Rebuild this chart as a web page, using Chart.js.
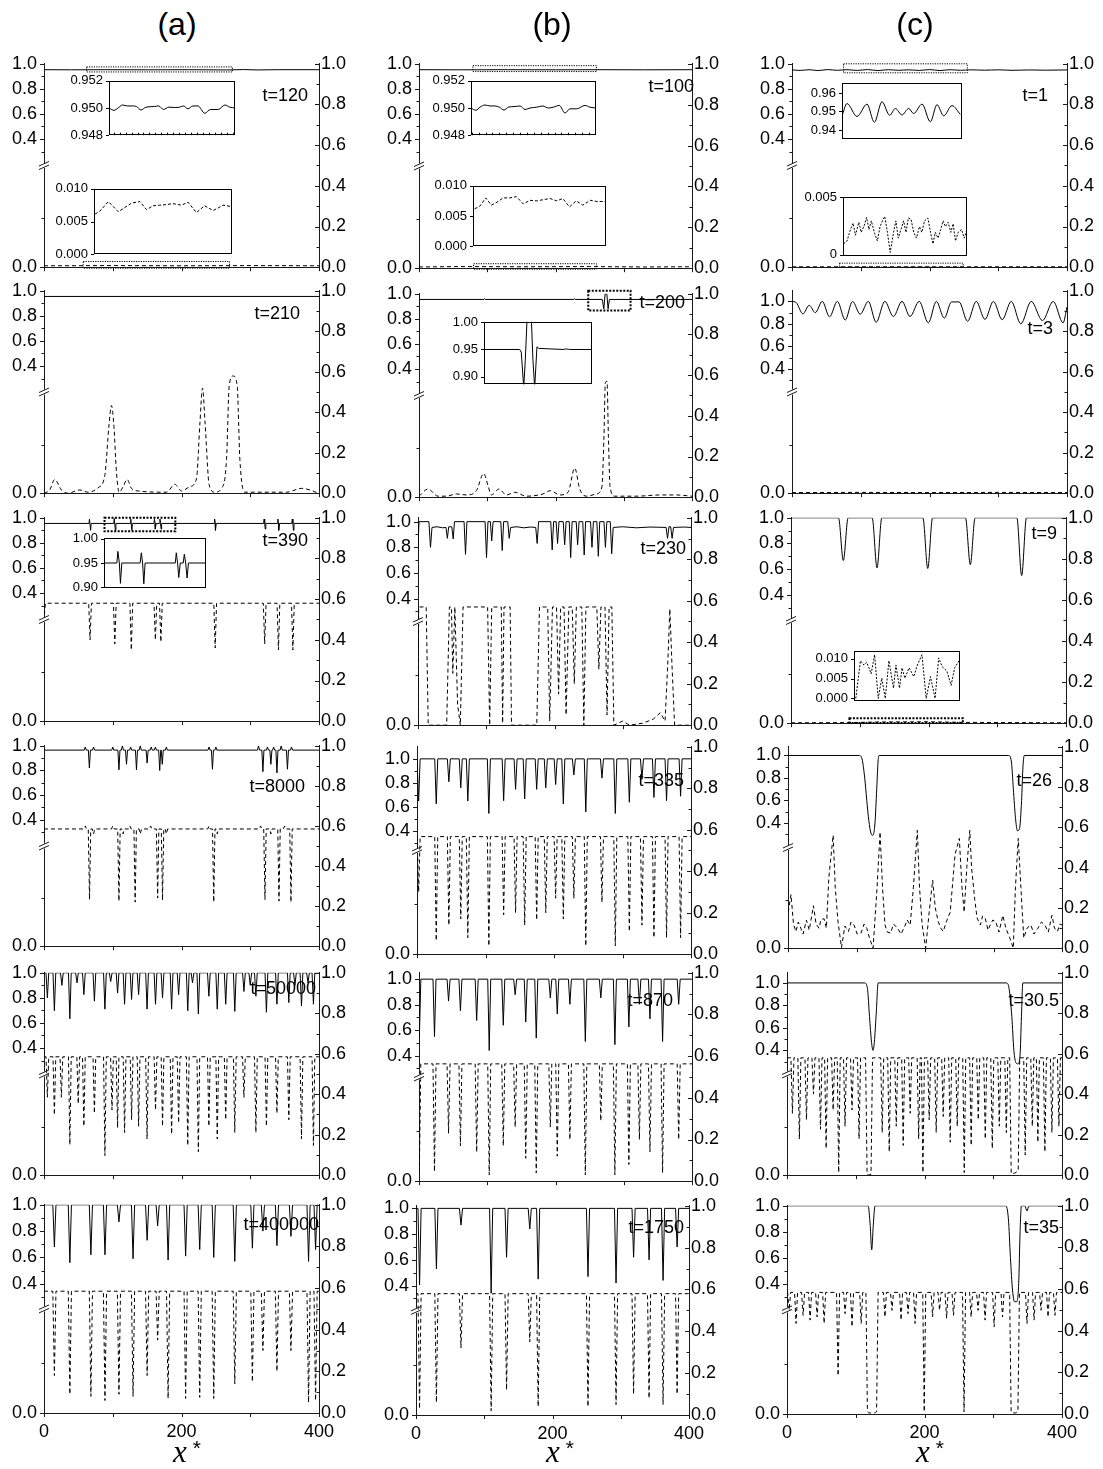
<!DOCTYPE html>
<html>
<head>
<meta charset="utf-8">
<script src="https://cdn.jsdelivr.net/npm/chart.js"></script>
<style>
  html, body { margin: 0; padding: 0; background: #fff; overflow: hidden; }
  #fig { position: relative; width: 1103px; height: 1469px; font-family: "Liberation Sans", Arial, sans-serif; color: #000; }
  #fig canvas { position: absolute; }
  .txt { position: absolute; white-space: nowrap; line-height: 1; }
  .xl { position: absolute; font-family: "Liberation Serif", "Times New Roman", serif; font-style: italic; font-size: 31px; line-height: 1; white-space: nowrap; }
  .xl span { font-family: "Liberation Sans", Arial, sans-serif; font-style: normal; font-size: 21px; position: relative; top: -7px; margin-left: 6px; }
</style>
</head>
<body>
<div id="fig"></div>
<script>
// ---------- axes ----------
const X_MIN = 0, X_MAX = 400;
const xTickValues = [0, 100, 200, 300, 400];
const xTickLabels = ['0', '', '200', '', '400'];
const rightTickValues = [0, 0.1, 0.2, 0.3, 0.4, 0.5, 0.6, 0.7, 0.8, 0.9, 1.0];
const rightTickLabels = ['0.0', '', '0.2', '', '0.4', '', '0.6', '', '0.8', '', '1.0'];
const leftTickValues = [0.3, 0.4, 0.5, 0.6, 0.7, 0.8, 0.9, 1.0];
const leftTickLabels = ['', '0.4', '', '0.6', '', '0.8', '', '1.0'];
const leftBottomLabel = '0.0';
const BREAK_AT = 0.5;   // right-axis level where the left axis is broken
const LOW_TICK = 0.24;  // minor tick on the lower part of the left axis

// ---------- column (a) ----------
const a1Solid = [[0,0.953],[40,0.952],[90,0.953],[150,0.952],[210,0.953],[265,0.951],[290,0.954],[310,0.951],[340,0.953],[400,0.953]];
const a1Dashed = [[0,0.007],[100,0.008],[200,0.007],[300,0.008],[400,0.007]];
const a1InsetSolid = [[62,0.95],[70.5,0.94983],[77.3,0.95],[84.6,0.95022],[93.1,0.95015],[101.6,0.95015],[108.4,0.95011],[115.7,0.94985],[124.2,0.95006],[138.3,0.95011],[145.7,0.95015],[153.6,0.94989],[162.6,0.95006],[172.2,0.95004],[180.7,0.95006],[187.5,0.95015],[194.8,0.94994],[203.3,0.95015],[211.8,0.95015],[223.1,0.94961],[232.7,0.94989],[245.7,0.94989],[257,0.95022],[265.5,0.95006],[274,0.95]];
const a1InsetDashed = [[58.5,0.00614],[66.2,0.00659],[79.1,0.00805],[86.8,0.00727],[94.5,0.0065],[104.7,0.00714],[115,0.00782],[127.8,0.00805],[138.1,0.00682],[148.3,0.00741],[158.6,0.0075],[168.9,0.00759],[179.1,0.00773],[192,0.0075],[202.2,0.00795],[215,0.00636],[227.8,0.00741],[240.7,0.00668],[248.4,0.00705],[256.1,0.0075],[270,0.00727]];

const a2Solid = [[0,0.955],[400,0.955]];
const a2Dashed = [[0,0.0],[8.3,0.016],[15.6,0.068],[25.3,0.016],[35,0.0],[52,0.016],[64.1,0.005],[78.7,0.027],[88.4,0.087],[94.7,0.341],[98.1,0.433],[101.5,0.341],[105.4,0.103],[109.2,0.005],[115.1,0.032],[120.9,0.068],[127.2,0.024],[136.9,0.011],[178.2,0.005],[190.3,0.044],[200,0.011],[212.1,0.032],[221.8,0.071],[226.7,0.341],[230.6,0.519],[234.4,0.341],[240.3,0.04],[248.5,0.005],[258.2,0.024],[265.5,0.167],[269.4,0.532],[275.2,0.579],[281,0.532],[284.9,0.167],[292.2,0.005],[352.9,0.005],[374.7,0.024],[400,0.0]];

const a3SolidSpikes = [[66.2,0.99],[67.8,0.90],[102.2,0.995],[103.8,0.90],[126.2,0.99],[127.8,0.90],[160.7,0.99],[162.3,0.91],[168.7,0.99],[170.3,0.91],[248.2,0.99],[249.8,0.90],[320.2,0.99],[321.8,0.91],[340.2,0.99],[341.8,0.90],[361.2,0.99],[362.8,0.90]];
const a3DashedDips = [[0,0.50],[67,0.40],[103,0.38],[127,0.35],[162,0.40],[170,0.39],[249,0.36],[321,0.38],[341,0.35],[362,0.35]];
const a3Inset = [[88,0.95],[101,0.95],[102,0.974],[103.5,0.95],[104.6,0.908],[106,0.95],[124.5,0.95],[125.7,0.971],[127,0.95],[128.2,0.907],[129.5,0.95],[160,0.95],[161,0.971],[162.3,0.95],[163.5,0.92],[165,0.95],[168,0.95],[169.1,0.968],[170.5,0.95],[171.9,0.919],[173.3,0.95],[191,0.95]];

const a4SolidSpikes = [[60,0.99],[66,0.82],[72,0.99],[100,0.99],[109,0.805],[114,1.0],[120,0.85],[126,0.99],[134.5,0.805],[140,1.0],[150,0.86],[156,0.99],[162,0.99],[168.3,0.80],[172,0.85],[178,0.99],[240,0.99],[245,0.81],[250,0.99],[312,1.0],[318.4,0.79],[325,0.99],[330,0.85],[334,0.99],[338.8,0.78],[345,1.0],[354.1,0.81],[360,0.99]];
const a4DashedDips = [[60,0.60],[66.2,0.233],[72,0.56],[100,0.60],[109,0.225],[115,0.56],[125,0.60],[132.6,0.22],[140,0.56],[155,0.60],[165.3,0.24],[172.4,0.23],[178,0.56],[240,0.60],[246.9,0.22],[252,0.56],[315,0.60],[321.4,0.233],[330,0.56],[341.8,0.225],[350,0.60],[359.2,0.22]];

const a5SolidDips = [[4.9,0.80],[15.1,0.697],[26,0.90],[37.6,0.633],[48,0.92],[58,0.826],[73.3,0.774],[88.6,0.71],[97,0.93],[107,0.838],[117.2,0.749],[127.4,0.787],[137.6,0.826],[149.9,0.71],[162.2,0.749],[172.4,0.80],[185.6,0.71],[195.8,0.826],[209.1,0.697],[216,0.92],[224.5,0.672],[239.8,0.813],[252,0.71],[264.3,0.749],[277.5,0.692],[290.8,0.851],[300,0.90],[308.2,0.813],[323.5,0.685],[338.8,0.749],[356.1,0.762],[365,0.90],[374.5,0.736],[384,0.92],[391.9,0.749]];
const a5DashedDips = [[4.9,0.385],[15.1,0.298],[25.3,0.385],[37.6,0.151],[49.8,0.353],[58,0.242],[73.3,0.306],[88.6,0.097],[98.9,0.322],[107,0.235],[117.2,0.211],[127.4,0.274],[137.6,0.242],[149.9,0.179],[162.2,0.322],[172.4,0.242],[185.6,0.203],[195.8,0.258],[209.1,0.147],[224.5,0.116],[239.8,0.242],[252,0.179],[264.3,0.274],[277.5,0.211],[290.8,0.385],[308.2,0.211],[323.5,0.242],[338.8,0.306],[356.1,0.274],[374.5,0.179],[391.9,0.147]];

const a6SolidDips = [[15.1,0.68],[37.6,0.56],[68.2,0.62],[88.7,0.62],[109,0.87],[129.5,0.59],[150,0.73],[165.3,0.84],[180.5,0.58],[206,0.61],[226.5,0.66],[246.9,0.60],[277.5,0.57],[303.1,0.67],[318.4,0.80],[338.8,0.69],[359.2,0.76],[384.8,0.57],[395,0.66]];
const a6DashedDips = [[15.1,0.18],[37.6,0.09],[68.2,0.08],[88.7,0.06],[109,0.09],[129.5,0.08],[150,0.18],[165.3,0.35],[180.5,0.07],[206,0.07],[226.5,0.075],[246.9,0.07],[277.5,0.14],[303.1,0.15],[318.4,0.30],[338.8,0.20],[359.2,0.30],[384.8,0.05],[395,0.06]];

// ---------- column (b) ----------
const b1Solid = [[0,0.953],[60,0.952],[130,0.953],[200,0.952],[260,0.953],[330,0.952],[400,0.953]];
const b1Dashed = [[0,0.006],[60,0.008],[150,0.007],[250,0.008],[330,0.006],[400,0.007]];
const b1InsetSolid = [[79,0.95],[86.2,0.94983],[92,0.95006],[99.3,0.95022],[106.5,0.95015],[113.8,0.95015],[120,0.95006],[126.8,0.94985],[133.1,0.95006],[142.7,0.95011],[150,0.95015],[157.2,0.94989],[164.4,0.95],[174.1,0.95006],[182.8,0.95015],[191,0.95],[198.2,0.95006],[206.9,0.95019],[215.1,0.94963],[222.4,0.94994],[232,0.94994],[244.1,0.95019],[251.3,0.95006],[260,0.95]];
const b1InsetDashed = [[82.3,0.0062],[89.1,0.0066],[97.2,0.008],[104.9,0.0068],[112.6,0.0073],[120.8,0.008],[129.9,0.008],[138.9,0.0082],[148,0.007],[157.1,0.0076],[166.1,0.0075],[175.2,0.0077],[184.3,0.0079],[193.4,0.0075],[201.5,0.0079],[210.6,0.0065],[219.6,0.0075],[228.7,0.0068],[238.7,0.0076],[247.8,0.0074],[259.1,0.0074]];

const b2Solid = [[0,0.955],[95,0.955],[96,0.962],[97,0.955],[227,0.955],[228,0.962],[229,0.955],[268.5,0.955],[270.8,0.88],[272.7,1.0],[275.2,1.0],[277.1,0.88],[279,0.955],[400,0.955]];
const b2Dashed = [[0,0.005],[13.2,0.04],[27.9,0.005],[40.1,0.005],[54.8,0.016],[69.4,0.011],[84,0.032],[94.8,0.116],[101.2,0.056],[106,0.011],[117.2,0.04],[128,0.011],[140.2,0.024],[157.3,0.005],[181.7,0.016],[192.5,0.032],[206.2,0.011],[218.4,0.024],[228.2,0.143],[235.5,0.04],[245.3,0.005],[260,0.016],[268,0.05],[271,0.3],[273,0.56],[275.5,0.57],[277.5,0.3],[280,0.05],[286.8,0.005],[318.6,0.005],[352.7,0.011],[377.2,0.011],[400,0.005]];
const b2Inset = [[248,0.95],[268.5,0.95],[269.4,0.945],[270.8,0.88],[271.7,0.93],[272.7,1.005],[275.2,1.005],[276.1,0.93],[277.1,0.88],[278.4,0.955],[279.4,0.952],[293.4,0.95],[295.3,0.951],[297.2,0.95],[310,0.95]];

const b3Solid = [[0,0.8],[1.5,1.0],[16,1.0],[18.3,0.8],[20.5,0.955],[28,0.96],[36,0.952],[41,0.955],[43,0.87],[45,0.96],[49.5,0.96],[51.6,0.865],[53.5,1.0],[67.5,1.0],[69.6,0.745],[71.7,1.0],[98.3,1.0],[100.4,0.72],[102.5,1.0],[106,1.0],[108,0.85],[110,1.0],[121.3,1.0],[123.4,0.775],[125.5,1.0],[131.5,1.0],[133.6,0.87],[135.7,0.955],[145,0.96],[155,0.952],[165,0.958],[172.5,0.955],[174.6,0.83],[176.7,1.0],[194.5,1.0],[196.6,0.78],[198.7,1.0],[202.4,1.0],[204.5,0.83],[206.6,1.0],[212.8,1.0],[214.9,0.82],[217,1.0],[221.6,1.0],[223.7,0.72],[225.8,1.0],[231.8,1.0],[233.9,0.82],[236,1.0],[241.4,1.0],[243.5,0.74],[245.6,1.0],[252.8,1.0],[254.9,0.8],[257,1.0],[262.1,1.0],[264.2,0.73],[266.3,1.0],[272.5,1.0],[274.6,0.8],[276.7,1.0],[281.7,1.0],[283.8,0.75],[286,0.955],[300,0.96],[320,0.952],[340,0.958],[363.5,0.955],[365.6,0.87],[367.7,0.96],[370.2,0.96],[372.3,0.87],[374.4,0.955],[390,0.958],[400,0.955]];
const b3Dashed = [[0,0.0],[1,0.57],[12,0.57],[15,0.0],[42,0.0],[46,0.57],[49,0.57],[51,0.25],[54,0.57],[58,0.1],[62,0.0],[66,0.57],[102,0.57],[105,0.0],[108,0.57],[122,0.57],[124,0.01],[126,0.57],[135,0.57],[137,0.0],[174,0.0],[178,0.57],[190,0.57],[193,0.02],[197,0.57],[203,0.57],[206,0.15],[209,0.57],[214,0.57],[217,0.05],[221,0.57],[226,0.57],[229,0.2],[232,0.57],[240,0.57],[243,0.0],[246,0.57],[262,0.57],[265,0.27],[268,0.57],[274,0.57],[277,0.05],[280,0.57],[284,0.57],[287,0.0],[300,0.02],[310,0.0],[330,0.01],[345,0.03],[355,0.06],[362,0.02],[366,0.3],[369,0.56],[372,0.3],[376,0.0],[400,0.0]];

const b4SolidDips = [[2.4,0.65],[28.1,0.627],[46.5,0.81],[63.9,0.76],[74.2,0.65],[104.9,0.547],[126.5,0.653],[143.9,0.747],[157.2,0.667],[174.7,0.747],[188,0.76],[202.4,0.787],[213.6,0.627],[229,0.867],[246.4,0.56],[270,0.84],[289.5,0.547],[310,0.64],[328.4,0.83],[345.9,0.68],[364.3,0.653],[384.8,0.69]];
const b4DashedDips = [[2.4,0.30],[28.1,0.065],[46.5,0.14],[63.9,0.17],[74.2,0.08],[104.9,0.04],[126.5,0.19],[143.9,0.20],[157.2,0.14],[174.7,0.165],[188,0.20],[202.4,0.27],[213.6,0.17],[229,0.27],[246.4,0.04],[270,0.25],[289.5,0.04],[310,0.11],[328.4,0.14],[345.9,0.08],[364.3,0.08],[384.8,0.08]];

const b5SolidDips = [[0.5,0.537],[22.7,0.549],[43.3,0.828],[60.7,0.752],[84.5,0.676],[102.9,0.44],[123.5,0.638],[140.9,0.878],[156.4,0.663],[171.8,0.537],[192.4,0.853],[202.6,0.727],[221.1,0.803],[243.7,0.511],[266.4,0.853],[287,0.486],[307.5,0.625],[322.9,0.803],[338.4,0.689],[356.9,0.511],[380.5,0.803]];
const b5DashedDips = [[0.5,0.05],[22.7,0.046],[43.3,0.23],[60.7,0.17],[84.5,0.14],[102.9,0.03],[123.5,0.17],[140.9,0.26],[156.4,0.11],[171.8,0.04],[192.4,0.26],[202.6,0.12],[221.1,0.20],[243.7,0.03],[266.4,0.29],[287,0.03],[307.5,0.08],[322.9,0.20],[338.4,0.14],[356.9,0.04],[380.5,0.20]];

const b6SolidDips = [[5.2,0.405],[29.9,0.53],[65.9,0.87],[110.1,0.34],[132.7,0.62],[166.7,0.84],[179,0.45],[252,0.47],[293.1,0.42],[318.8,0.62],[341.5,0.60],[362,0.44],[382.6,0.70]];
const b6DashedDips = [[5.2,0.03],[29.9,0.06],[65.9,0.32],[110.1,0.02],[132.7,0.12],[166.7,0.35],[179,0.04],[252,0.04],[293.1,0.05],[318.8,0.10],[341.5,0.08],[362,0.05],[382.6,0.10]];

// ---------- column (c) ----------
const c1Solid = [[0,0.952],[12,0.947],[25,0.953],[38,0.946],[52,0.954],[66,0.948],[80,0.953],[95,0.947],[110,0.954],[125,0.946],[140,0.953],[155,0.948],[170,0.952],[185,0.947],[200,0.954],[215,0.946],[230,0.953],[245,0.948],[260,0.952],[280,0.949],[300,0.952],[320,0.948],[345,0.951],[370,0.949],[400,0.951]];
const c1Dashed = [[0,0.002],[100,0.002],[200,0.002],[300,0.002],[400,0.002]];
const c1InsetSolid = [[75,0.9476],[82.5,0.95429],[97.5,0.9473],[112.5,0.95397],[123.5,0.94413],[135,0.95524],[146.5,0.94794],[155,0.95159],[165,0.9481],[175,0.95159],[182.5,0.94889],[195,0.95397],[207.5,0.94444],[217.5,0.95365],[227.5,0.94762],[240,0.95317],[252.5,0.94841]];
const c1InsetDashed = [[70,0.00095],[74.9,0.0012],[79.8,0.0022],[83.7,0.00275],[87.1,0.0017],[92,0.00283],[95.4,0.00195],[99.3,0.00245],[103.2,0.00325],[106.7,0.0022],[110.1,0.00295],[115,0.00183],[118.9,0.0012],[122.8,0.00245],[126.2,0.00295],[129.6,0.00333],[133.5,0.00195],[137.5,0.0002],[142.4,0.00195],[145.8,0.00295],[149.2,0.00145],[153.1,0.0022],[157,0.00295],[160.4,0.00195],[163.9,0.0032],[167.8,0.00308],[171.7,0.00195],[175.6,0.00145],[180,0.00245],[183.4,0.00195],[187.3,0.00295],[192.2,0.0032],[196.1,0.00195],[199.6,0.00095],[203,0.00195],[206.9,0.00145],[210.8,0.0022],[214.2,0.00295],[217.7,0.00245],[221.6,0.00283],[225.5,0.00195],[228.9,0.0027],[232.3,0.0012],[236.2,0.00195],[241.1,0.0022],[245,0.00145],[249,0.0022]];

const c2Solid = [[0,1.0],[6,0.99],[15.9,0.889],[25,0.965],[33.9,0.90],[44,1.0],[54.6,0.863],[66,1.0],[77.4,0.834],[88,1.0],[99.2,0.886],[111,1.0],[122.4,0.814],[135,1.0],[147.5,0.866],[160,1.0],[171.7,0.866],[185,1.0],[198.3,0.809],[210,1.0],[221.5,0.851],[232,0.995],[243,0.995],[255.4,0.823],[268,1.0],[280.6,0.84],[293,1.0],[305.7,0.837],[319,1.0],[332.8,0.80],[348,1.0],[364.3,0.829],[380,1.0],[394.3,0.809],[400,0.95]];
const c2Dashed = [[0,0.003],[100,0.004],[200,0.003],[300,0.004],[400,0.003]];

const c3SolidDips = [[76.1,0.667],[125.1,0.61],[198.9,0.605],[260.8,0.635],[335.5,0.55]];
const c3Dashed = [[0,0.002],[85,0.003],[130,0.006],[200,0.007],[250,0.004],[320,0.003],[400,0.002]];
const c3Inset = [[87.8,0.0],[95,0.0095],[100.5,0.0084],[104.4,0.0091],[107.7,0.008],[111.6,0.0062],[117.1,0.011],[122.7,0.0],[128.2,0.0051],[133.7,0.0],[139.3,0.0095],[146.5,0.0026],[150.3,0.0084],[155.9,0.0026],[159.7,0.0077],[164.2,0.0051],[170.8,0.0077],[178,0.0055],[183.6,0.0084],[190.8,0.011],[197.4,0.0],[204,0.0055],[211.2,0.0],[216.8,0.0102],[222.3,0.008],[229.5,0.0069],[236.2,0.0033],[241.7,0.0077],[250,0.0099]];

const c4Solid = [[0,1],[104,1],[108,0.97],[112,0.8],[115,0.6],[118,0.42],[121,0.31],[124,0.29],[127,0.4],[129.5,0.7],[131.5,0.95],[133,1],[322,1],[326,0.95],[329,0.7],[332,0.45],[335,0.33],[338,0.35],[341,0.6],[343,0.9],[345,1],[400,1]];
const c4Dashed = [[0.3,0.179],[4.4,0.266],[8,0.12],[11.6,0.083],[15,0.13],[18.7,0.099],[22,0.07],[26.9,0.139],[31,0.09],[37.2,0.211],[41,0.12],[45.4,0.099],[48,0.14],[52.6,0.147],[56,0.1],[59.7,0.354],[65.9,0.561],[69,0.3],[73,0.131],[78.1,0.003],[83,0.11],[88.3,0.083],[92,0.13],[96.5,0.115],[101,0.07],[106.7,0.075],[111,0.12],[115,0.099],[119,0.05],[124.2,0.0],[130,0.3],[134.4,0.577],[138,0.3],[141.6,0.115],[145,0.08],[149.8,0.075],[154,0.12],[160,0.099],[165,0.07],[170.2,0.107],[174,0.14],[178.4,0.115],[183,0.3],[188.8,0.585],[192,0.3],[195.9,0.115],[201,0.0],[206.1,0.179],[211.2,0.338],[215,0.2],[219.4,0.131],[223,0.1],[226.6,0.083],[231,0.13],[236.8,0.179],[243.9,0.466],[250.1,0.545],[254,0.3],[257.2,0.179],[261,0.4],[265.4,0.585],[268,0.4],[272.6,0.242],[276,0.15],[280.9,0.115],[284,0.16],[288,0.147],[292,0.09],[295.2,0.115],[299,0.14],[303.4,0.131],[308,0.08],[313.6,0.163],[318,0.1],[323.8,0.051],[328.9,0.0],[332,0.3],[336.1,0.545],[340,0.3],[344.2,0.051],[349,0.1],[354.6,0.115],[359,0.07],[364.8,0.099],[370,0.13],[375,0.115],[380,0.08],[385.3,0.163],[389,0.1],[393.4,0.083],[397,0.12],[400,0.115]];

const c5Solid = [[0,1],[113,1],[117,0.95],[120,0.7],[123,0.47],[125,0.40],[127,0.47],[130,0.75],[132.5,1],[319,1],[323,0.95],[327,0.7],[330,0.4],[333,0.29],[336,0.28],[339,0.36],[341,0.7],[343,1],[400,1]];
const c5DashedDips = [[7.9,0.306],[18,0.179],[28.3,0.274],[38.5,0.401],[48.7,0.227],[56.9,0.132],[67.1,0.322],[75.2,0.013],[84.4,0.242],[94.6,0.322],[104.8,0.179],[116.5,0.005],[118.5,0.002],[120.5,0.002],[122.2,0.005],[138.5,0.211],[148.7,0.116],[158.9,0.242],[169,0.147],[179.2,0.306],[191.5,0.179],[197.7,0.013],[206.8,0.274],[217,0.211],[227.2,0.29],[237.4,0.163],[247.6,0.242],[257.8,0.013],[267.9,0.147],[278.2,0.274],[288.4,0.179],[298.6,0.132],[308.8,0.242],[319,0.211],[326.1,0.008],[328.5,0.01],[331,0.01],[333.5,0.015],[336.3,0.021],[346.5,0.10],[356.8,0.242],[364.9,0.163],[375.1,0.116],[385.3,0.211],[395.5,0.242]];

const c6Solid = [[0,1],[118,1],[121,0.85],[123.2,0.66],[125.5,0.85],[128,1],[318,1],[322,0.9],[325,0.6],[328,0.35],[331,0.26],[334,0.26],[337,0.4],[339,0.8],[341,1],[346,1],[349,0.96],[352,1],[400,1]];
const c6DashedDips = [[3.1,0.498],[13.2,0.435],[23.4,0.474],[33.6,0.451],[43.8,0.466],[54,0.435],[74.3,0.184],[84.5,0.482],[94.6,0.419],[107.9,0.435],[117,0.011],[119,0.005],[121,0.005],[123,0.005],[125,0.005],[127,0.005],[129,0.008],[130.3,0.011],[142.5,0.466],[152.7,0.498],[165.9,0.451],[176.1,0.482],[186.3,0.435],[199.6,0.011],[211.8,0.466],[221.9,0.498],[232.1,0.46],[242.2,0.474],[257.5,0.011],[267.8,0.466],[277.9,0.498],[288.1,0.451],[301.3,0.419],[313.5,0.466],[326,0.011],[328,0.005],[330,0.005],[332,0.005],[334,0.008],[335.9,0.011],[349.1,0.435],[359.4,0.451],[369.5,0.498],[379.7,0.466],[389.8,0.474]];

// inset tick values / labels
const tick952 = [0.948, 0.950, 0.952], lab952 = ['0.948', '0.950', '0.952'];
const tick010 = [0, 0.005, 0.010], lab010 = ['0.000', '0.005', '0.010'];
const tick96 = [0.94, 0.95, 0.96], lab96 = ['0.94', '0.95', '0.96'];
const tick005 = [0, 0.005], lab005 = ['0', '0.005'];
const tick100 = [0.90, 0.95, 1.00], lab100 = ['0.90', '0.95', '1.00'];

// ---------- helpers ----------
function pts(arr) { return arr.map(([x, y]) => ({x, y})); }

// flat level with narrow dips (or spikes); neighbours closer than 2w are joined directly
function dipLine(base, dips, w) {
  const out = [];
  if (!dips.length || dips[0][0] - w > X_MIN) out.push({x: X_MIN, y: base});
  dips.forEach(([x, y], i) => {
    const prev = dips[i - 1], next = dips[i + 1];
    if (!prev || x - prev[0] > 2 * w) out.push({x: x - w, y: base});
    out.push({x, y});
    if (!next || next[0] - x > 2 * w) out.push({x: x + w, y: base});
  });
  if (!dips.length || dips[dips.length - 1][0] + w < X_MAX) out.push({x: X_MAX, y: base});
  return out;
}

Chart.defaults.font.family = '"Liberation Sans", Arial, sans-serif';
Chart.defaults.color = '#000';

const fig = document.getElementById('fig');
const AXIS = '#1a1a1a';
const NO_GRID = {display: false, drawTicks: false, tickLength: 0};

// ticks, axis break and zoom frames of a main panel
const panelDeco = {
  id: 'panelDeco',
  afterDraw(chart, args, o) {
    const {ctx, chartArea: a, scales: {x, yL, yR}} = chart;
    ctx.save();
    ctx.strokeStyle = AXIS;
    ctx.lineWidth = 1;
    ctx.beginPath();
    [o.lmin, ...leftTickValues].forEach((v, i) => {
      if (v > o.lmax + 1e-9) return;
      const y = Math.round(yL.getPixelForValue(v)) + 0.5;
      const len = (i === 0 || leftTickLabels[i - 1]) ? 4 : 2.5;
      ctx.moveTo(a.left - len, y); ctx.lineTo(a.left, y);
    });
    const yLow = Math.round(yR.getPixelForValue(LOW_TICK)) + 0.5;
    ctx.moveTo(a.left - 2.5, yLow); ctx.lineTo(a.left, yLow);
    rightTickValues.forEach((v, i) => {
      const y = Math.round(yR.getPixelForValue(v)) + 0.5;
      const len = rightTickLabels[i] ? 4 : 2.5;
      ctx.moveTo(a.right, y); ctx.lineTo(a.right - len, y);
    });
    xTickValues.forEach(v => {
      const px = Math.round(x.getPixelForValue(v)) + 0.5;
      ctx.moveTo(px, a.bottom); ctx.lineTo(px, a.bottom + 4);
    });
    ctx.stroke();

    // broken left axis
    const yb = yR.getPixelForValue(BREAK_AT);
    ctx.fillStyle = '#fff';
    ctx.fillRect(a.left - 1.5, yb - 2.5, 3, 5);
    ctx.beginPath();
    ctx.moveTo(a.left - 5, yb + 0.5); ctx.lineTo(a.left + 5, yb - 4);
    ctx.moveTo(a.left - 5, yb + 4); ctx.lineTo(a.left + 5, yb - 0.5);
    ctx.stroke();

    // dotted frames of the zoomed regions
    o.rects.forEach(r => {
      const sc = r.L ? yL : yR, yy = r.L || r.R;
      const x0 = x.getPixelForValue(r.x[0]), x1 = x.getPixelForValue(r.x[1]);
      const y0 = sc.getPixelForValue(yy[1]), y1 = sc.getPixelForValue(yy[0]);
      ctx.setLineDash(r.thick ? [2, 1.5] : [1.2, 1.2]);
      ctx.lineWidth = r.thick ? 2 : 1;
      ctx.strokeStyle = '#000';
      ctx.strokeRect(x0, y0, x1 - x0, y1 - y0);
    });
    ctx.restore();
  }
};

const insetDeco = {
  id: 'insetDeco',
  beforeDraw(chart) {
    const {ctx, chartArea: a} = chart;
    ctx.save();
    ctx.fillStyle = '#fff';
    ctx.fillRect(a.left, a.top, a.right - a.left, a.bottom - a.top);
    ctx.restore();
  },
  afterDraw(chart, args, o) {
    const {ctx, chartArea: a, scales: {x, y}} = chart;
    ctx.save();
    ctx.strokeStyle = '#000';
    ctx.lineWidth = 1;
    ctx.strokeRect(Math.round(a.left) + 0.5, Math.round(a.top) + 0.5,
      Math.round(a.right - a.left) - 1, Math.round(a.bottom - a.top) - 1);
    ctx.beginPath();
    o.ticks.forEach(v => {
      const py = Math.round(y.getPixelForValue(v)) + 0.5;
      ctx.moveTo(a.left - 3, py); ctx.lineTo(a.left, py);
    });
    if (o.xt) {
      for (let v = Math.ceil(x.min / 10) * 10; v < x.max; v += 10) {
        const px = Math.round(x.getPixelForValue(v)) + 0.5;
        ctx.moveTo(px, a.bottom); ctx.lineTo(px, a.bottom - 2.5);
      }
    }
    ctx.stroke();
    ctx.restore();
  }
};

function makePanel(p, bottomRow) {
  const L = Math.round(p.box[0]), T = Math.round(p.box[1]);
  const R = Math.round(p.box[2]), B = Math.round(p.box[3]);
  const side = 44, top = 14, xh = bottomRow ? 36 : 14;
  const cv = document.createElement('canvas');
  cv.width = R - L + 2 * side;
  cv.height = B - T + top + xh;
  cv.style.left = (L - side) + 'px';
  cv.style.top = (T - top) + 'px';
  fig.appendChild(cv);
  const lmin = p.lmax - (B - T) / p.ppu;
  const border = {display: true, color: AXIS, width: 1};
  new Chart(cv, {
    type: 'line',
    data: {
      datasets: [
        {data: p.solid, yAxisID: 'yL', borderColor: '#000', borderWidth: 1, pointRadius: 0,
         cubicInterpolationMode: p.smooth ? 'monotone' : 'default'},
        {data: p.dashed, yAxisID: 'yR', borderColor: '#000', borderWidth: 1, borderDash: [4, 3], pointRadius: 0,
         cubicInterpolationMode: p.smoothDash ? 'monotone' : 'default'}
      ]
    },
    options: {
      responsive: false, animation: false, devicePixelRatio: 1, events: [],
      layout: {padding: {top, left: 0, right: 0, bottom: 0}},
      plugins: {legend: {display: false}, tooltip: {enabled: false},
                panelDeco: {lmin, lmax: p.lmax, rects: p.rects || []}},
      scales: {
        x: {
          type: 'linear', min: X_MIN, max: X_MAX, grid: NO_GRID, border,
          afterFit: s => { s.height = xh; },
          afterBuildTicks: s => { s.ticks = xTickValues.map(v => ({value: v})); },
          ticks: {display: bottomRow, autoSkip: false, maxRotation: 0, padding: 8,
                  font: {size: 18}, color: '#000', callback: (v, i) => xTickLabels[i]}
        },
        yL: {
          type: 'linear', position: 'left', min: lmin, max: p.lmax, grid: NO_GRID, border,
          afterFit: s => { s.width = side; },
          afterBuildTicks: s => {
            s.ticks = [lmin, ...leftTickValues].filter(v => v <= p.lmax + 1e-9).map(v => ({value: v}));
          },
          ticks: {autoSkip: false, padding: 7, font: {size: 18}, color: '#000',
                  callback: (v, i) => i === 0 ? leftBottomLabel : leftTickLabels[i - 1]}
        },
        yR: {
          type: 'linear', position: 'right', min: 0, max: 1, grid: NO_GRID, border,
          afterFit: s => { s.width = side; },
          afterBuildTicks: s => { s.ticks = rightTickValues.map(v => ({value: v})); },
          ticks: {autoSkip: false, padding: 2, font: {size: 18}, color: '#000',
                  callback: (v, i) => rightTickLabels[i]}
        }
      }
    },
    plugins: [panelDeco]
  });
}

function makeInset(s) {
  const L = Math.round(s.box[0]), T = Math.round(s.box[1]);
  const R = Math.round(s.box[2]), B = Math.round(s.box[3]);
  const side = 44, pad = 10;
  const cv = document.createElement('canvas');
  cv.width = R - L + side + 4;
  cv.height = B - T + 2 * pad;
  cv.style.left = (L - side) + 'px';
  cv.style.top = (T - pad) + 'px';
  fig.appendChild(cv);
  new Chart(cv, {
    type: 'line',
    data: {datasets: [{data: s.data, borderColor: '#000', borderWidth: 1, pointRadius: 0,
                       borderDash: s.dash || [], cubicInterpolationMode: s.smooth ? 'monotone' : 'default'}]},
    options: {
      responsive: false, animation: false, devicePixelRatio: 1, events: [],
      layout: {padding: {top: pad, right: 4, left: 0, bottom: 0}},
      plugins: {legend: {display: false}, tooltip: {enabled: false},
                insetDeco: {ticks: s.ticks, xt: !!s.xt}},
      scales: {
        x: {type: 'linear', min: s.x[0], max: s.x[1], grid: NO_GRID, border: {display: false},
            ticks: {display: false}, afterFit: a => { a.height = pad; }},
        y: {type: 'linear', min: s.y[0], max: s.y[1], grid: NO_GRID, border: {display: false},
            afterFit: a => { a.width = side; },
            afterBuildTicks: a => { a.ticks = s.ticks.map(v => ({value: v})); },
            ticks: {autoSkip: false, padding: 6, font: {size: 13}, color: '#000',
                    callback: (v, i) => s.labels[i]}}
      }
    },
    plugins: [insetDeco]
  });
}

// ---------- panels: rows of (a), (b), (c) ----------
const panels = [
  // row 1
  {box: [44.3, 60, 319, 271], lmax: 1.0, ppu: 130, solid: pts(a1Solid), dashed: pts(a1Dashed), label: 't=120', lab: [308, 95],
   rects: [{x: [62, 274], L: [0.935, 0.975]}, {x: [57, 270], R: [-0.005, 0.028]}]},
  {box: [419.3, 60, 692.3, 272], lmax: 1.0, ppu: 130, solid: pts(b1Solid), dashed: pts(b1Dashed), label: 't=100', lab: [694, 86],
   rects: [{x: [79, 260], L: [0.938, 0.985]}, {x: [80, 260], R: [-0.005, 0.022]}]},
  {box: [791.7, 60, 1067.3, 271], lmax: 1.0, ppu: 130, solid: pts(c1Solid), dashed: pts(c1Dashed), smooth: true, label: 't=1', lab: [1048, 95],
   rects: [{x: [75, 255], L: [0.928, 1.0]}, {x: [69, 249], R: [0, 0.02]}]},
  // row 2
  {box: [44.3, 287, 319, 497], lmax: 1.0, ppu: 130, solid: pts(a2Solid), dashed: pts(a2Dashed), smoothDash: true, label: 't=210', lab: [300, 313]},
  {box: [419.3, 290, 692.3, 501], lmax: 1.0, ppu: 130, solid: pts(b2Solid), dashed: pts(b2Dashed), smoothDash: true, label: 't=200', lab: [685, 302],
   rects: [{x: [248, 310], L: [0.866, 1.025], thick: true}]},
  {box: [791.7, 287, 1067.3, 497], lmax: 1.094, ppu: 116.7, solid: pts(c2Solid), dashed: pts(c2Dashed), smooth: true, label: 't=3', lab: [1053, 328]},
  // row 3
  {box: [44.3, 514, 319, 725], lmax: 1.0, ppu: 130, solid: dipLine(0.955, a3SolidSpikes, 0.8), dashed: dipLine(0.58, a3DashedDips, 2), label: 't=390', lab: [308, 540],
   rects: [{x: [88, 191], L: [0.892, 1.0], thick: true}]},
  {box: [418, 514, 691, 729], lmax: 1.03, ppu: 133, solid: pts(b3Solid), dashed: pts(b3Dashed), label: 't=230', lab: [686, 548]},
  {box: [791, 514, 1066, 727], lmax: 1.0, ppu: 133, solid: dipLine(1.0, c3SolidDips, 7), dashed: pts(c3Dashed), smooth: true, label: 't=9', lab: [1057, 533],
   rects: [{x: [85, 250], R: [0.001, 0.024], thick: true}]},
  // row 4
  {box: [44.3, 742, 319, 950], lmax: 1.0, ppu: 128, solid: dipLine(0.965, a4SolidSpikes, 1.5), dashed: dipLine(0.585, a4DashedDips, 1.8), label: 't=8000', lab: [305, 786]},
  {box: [417, 743, 690.7, 958], lmax: 1.1, ppu: 125, solid: dipLine(1.0, b4SolidDips, 2.2), dashed: dipLine(0.567, b4DashedDips, 2.2), label: 't=335', lab: [684, 780]},
  {box: [788, 743, 1062, 952], lmax: 1.077, ppu: 116.7, solid: pts(c4Solid), dashed: pts(c4Dashed), smooth: true, label: 't=26', lab: [1052, 780]},
  // row 5
  {box: [44.3, 969, 319, 1179], lmax: 1.0, ppu: 130, solid: dipLine(1.0, a5SolidDips, 2), dashed: dipLine(0.585, a5DashedDips, 2), label: 't=50000', lab: [316, 988]},
  {box: [419.3, 969, 692, 1185], lmax: 1.05, ppu: 132, solid: dipLine(1.0, b5SolidDips, 2.2), dashed: dipLine(0.563, b5DashedDips, 2.2), label: 't=870', lab: [673, 1000]},
  {box: [787, 969, 1062, 1179], lmax: 1.09, ppu: 116.7, solid: pts(c5Solid), dashed: dipLine(0.58, c5DashedDips, 2.2), smooth: true, label: 't=30.5', lab: [1059, 1000]},
  // row 6
  {box: [44.3, 1201, 319, 1413], lmax: 1.0, ppu: 134, solid: dipLine(1.0, a6SolidDips, 2.3), dashed: dipLine(0.585, a6DashedDips, 2.3), label: 't=400000', lab: [319, 1224]},
  {box: [415.8, 1202, 688.6, 1415], lmax: 1.02, ppu: 131, solid: dipLine(1.0, b6SolidDips, 2.3), dashed: dipLine(0.58, b6DashedDips, 2.3), label: 't=1750', lab: [684, 1227]},
  {box: [786.8, 1202, 1062.4, 1414], lmax: 1.0, ppu: 132, solid: pts(c6Solid), dashed: dipLine(0.584, c6DashedDips, 2.2), smooth: true, label: 't=35', lab: [1059, 1227]}
];

const insets = [
  {box: [109.3, 77.3, 235, 139.3], x: [62, 274], y: [0.948, 0.952], ticks: tick952, labels: lab952, data: pts(a1InsetSolid), smooth: true, xt: true},
  {box: [94, 185, 232, 258.3], x: [57, 270], y: [0, 0.010], ticks: tick010, labels: lab010, data: pts(a1InsetDashed), dash: [3, 2]},
  {box: [471, 77.3, 596, 139.3], x: [79, 260], y: [0.948, 0.952], ticks: tick952, labels: lab952, data: pts(b1InsetSolid), smooth: true, xt: true},
  {box: [473.3, 181.7, 605.7, 250], x: [80, 260], y: [0, 0.010], ticks: tick010, labels: lab010, data: pts(b1InsetDashed), dash: [3, 2]},
  {box: [841.7, 79.3, 961.7, 143.3], x: [75, 255], y: [0.935, 0.9655], ticks: tick96, labels: lab96, data: pts(c1InsetSolid), smooth: true},
  {box: [842.7, 192.7, 966.7, 260], x: [69, 249], y: [-0.00013, 0.00505], ticks: tick005, labels: lab005, data: pts(c1InsetDashed), dash: [2, 1.5]},
  {box: [484.3, 317.7, 592.3, 387.7], x: [248, 310], y: [0.886, 1.001], ticks: tick100, labels: lab100, data: pts(b2Inset)},
  {box: [104.2, 534.3, 206.3, 591.7], x: [88, 191], y: [0.898, 1.002], ticks: tick100, labels: lab100, data: pts(a3Inset)},
  {box: [853.9, 646.7, 959.6, 705], x: [85, 250], y: [-0.0007, 0.012], ticks: tick010, labels: lab010, data: pts(c3Inset), dash: [2, 1.5]}
];

panels.forEach((p, i) => makePanel(p, i >= 15));
insets.forEach(makeInset);

// ---------- text ----------
function addText(text, x, y, css) {
  const d = document.createElement('div');
  d.className = 'txt';
  d.textContent = text;
  d.style.cssText = `left:${x}px;top:${y}px;` + css;
  fig.appendChild(d);
}

panels.forEach(p => addText(p.label, p.lab[0], p.lab[1], 'font-size:18px;transform:translate(-100%,-50%);'));

[['(a)', 177], ['(b)', 552], ['(c)', 915]].forEach(([t, cx]) =>
  addText(t, cx, 24, 'font-size:32px;transform:translate(-50%,-50%);'));

[173, 546, 916].forEach(x => {
  const d = document.createElement('div');
  d.className = 'xl';
  d.style.left = x + 'px';
  d.style.top = '1436px';
  d.innerHTML = 'x<span>*</span>';
  fig.appendChild(d);
});
</script>
</body>
</html>
